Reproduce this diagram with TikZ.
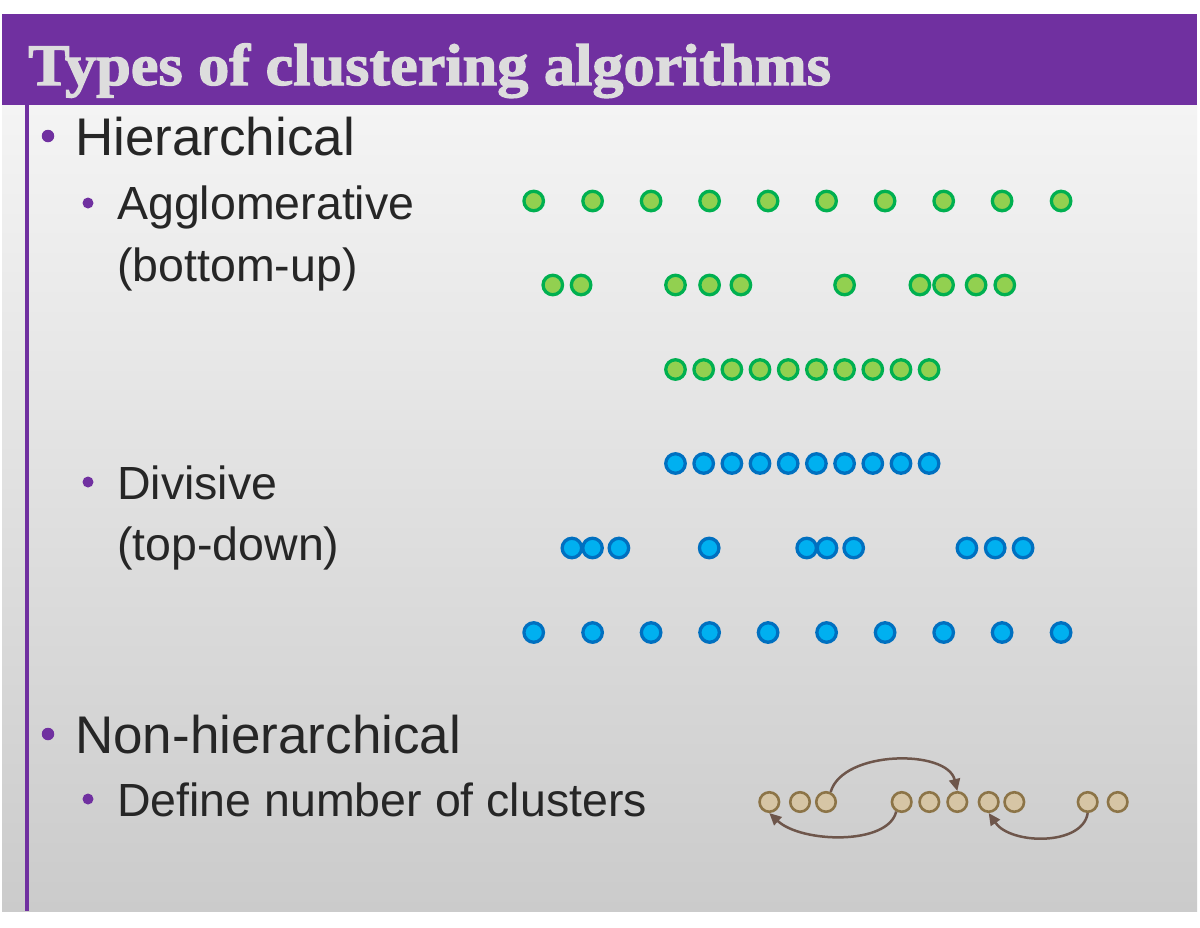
\documentclass[tikz,border=0pt]{standalone}
\usepackage{fontspec}
\setmainfont{Liberation Sans}
\newfontfamily\titlefont{Liberation Serif}[BoldFeatures={FakeBold=2}]
\usetikzlibrary{arrows.meta}
\definecolor{slidepurple}{HTML}{7030A0}
\definecolor{titlegray}{HTML}{DDDDDD}
\definecolor{textdark}{HTML}{262626}
\definecolor{gfill}{HTML}{92D050}
\definecolor{gline}{HTML}{00B050}
\definecolor{bfill}{HTML}{00B0F0}
\definecolor{bline}{HTML}{0070C0}
\definecolor{tfill}{HTML}{D6C5A5}
\definecolor{tline}{HTML}{8C7447}
\definecolor{arrbrown}{HTML}{6E564B}
\definecolor{bgtop}{HTML}{F4F4F4}
\definecolor{bgbot}{HTML}{CBCBCB}
\tikzset{
  dotbase/.style={circle, inner sep=0pt, minimum size=19.5pt, line width=3.3pt},
  gdot/.style={dotbase, draw=gline, fill=gfill},
  bdot/.style={dotbase, draw=bline, fill=bfill},
  tdot/.style={circle, inner sep=0pt, minimum size=19.5pt, line width=2.6pt, draw=tline, fill=tfill},
  mainitem/.style={anchor=base west, inner sep=0pt, text=textdark, font=\fontsize{53}{60}\selectfont},
  subitem/.style={anchor=base west, inner sep=0pt, text=textdark, font=\fontsize{46.5}{54}\selectfont},
  mainbullet/.style={circle, fill=slidepurple, inner sep=0pt, minimum size=12.5pt},
  subbullet/.style={circle, fill=slidepurple, inner sep=0pt, minimum size=11pt},
  arr/.style={draw=arrbrown, line width=2.5pt, -{Triangle[length=12pt,width=11pt]}}
}
\begin{document}
\begin{tikzpicture}[x=1pt, y=-1pt]
\useasboundingbox (0,0) rectangle (1200,927);
\fill[white] (0,0) rectangle (1200,927);
% slide background
\shade[top color=bgtop, bottom color=bgbot] (2,105) rectangle (1197,911);
% title bar
\fill[slidepurple] (2,14) rectangle (1197,105);
\node[anchor=base west, inner sep=0pt, text=titlegray, xscale=1.055,
      font=\titlefont\bfseries\fontsize{59}{60}\selectfont] (title) at (28,85) {Types of clustering algorithms};
% left rule
\fill[slidepurple] (25,105) rectangle (29,911);

% bullets and texts
\node[mainbullet] (mb1) at (48,136) {};
\node[mainitem] (hier) at (75,155) {Hierarchical};
\node[subbullet] (sb1) at (88,203) {};
\node[subitem] (agg) at (117,219) {Agglomerative};
\node[subitem] (aggb) at (117,281) {(bottom-up)};
\node[subbullet] (sb2) at (88,482) {};
\node[subitem] (div) at (117,499) {Divisive};
\node[subitem] (divb) at (117,560) {(top-down)};
\node[mainbullet] (mb2) at (48,734) {};
\node[mainitem] (nonh) at (75,753) {Non-hierarchical};
\node[subbullet] (sb3) at (88,799) {};
\node[subitem] (defn) at (117,816) {Define number of clusters};

% agglomerative dots
\foreach \x [count=\i] in {533.7,592.6,651.1,709.6,768.1,826.6,885.1,943.7,1002.1,1061.1}
  \node[gdot] (ga\i) at (\x,201) {};
\foreach \x [count=\i] in {552.8,581.1,675.5,709.6,740.9,844.6,919.9,943.6,976.1,1004.8}
  \node[gdot] (gb\i) at (\x,285) {};
\foreach \x [count=\i] in {675.5,703.7,731.9,760.0,788.2,816.4,844.6,872.8,901.0,929.1}
  \node[gdot] (gc\i) at (\x,369.5) {};

% divisive dots
\foreach \x [count=\i] in {675.5,703.7,731.9,760.0,788.2,816.4,844.6,872.8,901.0,929.1}
  \node[bdot] (ba\i) at (\x,463.5) {};
\foreach \x [count=\i] in {571.9,592.5,618.9,709.2,806.7,827.0,853.7,966.9,995.2,1023.1}
  \node[bdot] (bb\i) at (\x,548) {};
\foreach \x [count=\i] in {533.7,592.6,651.1,709.6,768.1,826.6,885.1,943.7,1002.1,1061.1}
  \node[bdot] (bc\i) at (\x,632.5) {};

% non-hierarchical dots
\foreach \x [count=\i] in {769.3,800.0,826.0,901.7,929.3,957.3,988.7,1014.3,1087.7,1117.7}
  \node[tdot] (t\i) at (\x,802) {};

% arrows
\draw[arr] (t3.65) .. controls +(12,-42) and +(-10,-42) .. (t6.north);
\draw[arr] (t4.240) .. controls +(-8,34) and +(32,30) .. (t1.south);
\draw[arr] (t9.south) .. controls +(-5,33) and +(22,32) .. (t7.south);
\end{tikzpicture}
\end{document}
